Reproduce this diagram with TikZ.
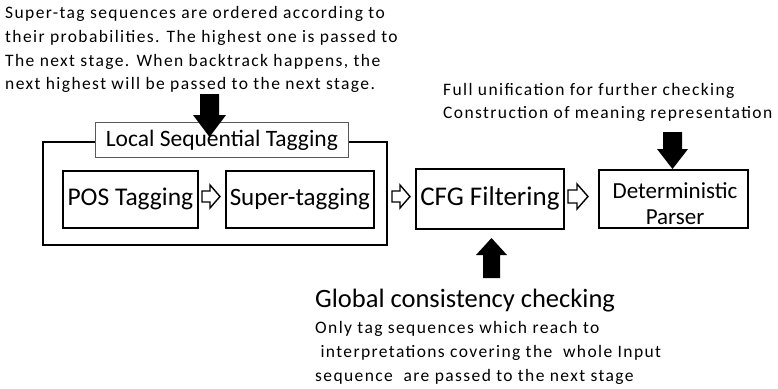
\documentclass[tikz,border=0pt]{standalone}
\usepackage{fontspec}
\setmainfont{Carlito}
\newfontfamily\spaced[LetterSpace=8]{Carlito}
\begin{document}
\begin{tikzpicture}[x=1pt,y=-1pt,
  box/.style={draw=black,line width=1.8pt,inner sep=0pt},
  note/.style={font=\spaced\fontsize{17.5}{20}\selectfont,inner sep=0pt,anchor=base west},
  blockarrow/.style={fill=black,draw=none},
  hollow/.style={fill=white,draw=black,line width=1.4pt,line join=miter}]
\useasboundingbox (0,0) rectangle (778,388);
% top note
\node[note] (t1) at (5,18) {Super-tag sequences are ordered according to};
\node[note] (t2) at (5,42) {their probabilities. The highest one is passed to};
\node[note] (t3) at (5,66) {The next stage. When backtrack happens, the};
\node[note] (t4) at (5,89) {next highest will be passed to the next stage.};
% outer frame
\draw[line width=1.8pt] (95,142) -- (43,142) -- (43,245) -- (387,245) -- (387,142) -- (348,142);
\node[draw=gray!70!black,line width=0.8pt,fill=white,minimum width=253pt,minimum height=35pt,anchor=north west,font=\fontsize{23.5}{26}\selectfont,inner sep=0pt] (lst) at (95,122) {Local Sequential Tagging};
% inner boxes
\node[box,minimum width=135pt,minimum height=57pt,anchor=north west,font=\fontsize{25.5}{28}\selectfont] (pos) at (62,170) {POS Tagging};
\node[box,minimum width=148pt,minimum height=57pt,anchor=north west,font=\fontsize{25}{28}\selectfont] (sup) at (225,170) {Super-tagging};
\node[box,minimum width=148pt,minimum height=60pt,anchor=north west,font=\fontsize{27}{30}\selectfont] (cfg) at (415,168) {CFG Filtering};
\node[box,minimum width=149pt,minimum height=58pt,anchor=north west] (det) at (598,169) {};
\node[font=\fontsize{23}{27}\selectfont,inner sep=0pt,anchor=base] (detl1) at (675,198) {Deterministic};
\node[font=\fontsize{23}{27}\selectfont,inner sep=0pt,anchor=base] (detl2) at (675,224) {Parser};
% hollow arrows
\draw[hollow] (202,191) -- (210,191) -- (210,185) -- (220,196.5) -- (210,208) -- (210,202) -- (202,202) -- cycle;
\draw[hollow] (392,191) -- (400,191) -- (400,185) -- (410,196.5) -- (400,208) -- (400,202) -- (392,202) -- cycle;
\draw[hollow] (568,190) -- (577,190) -- (577,184) -- (588,196.5) -- (577,209) -- (577,203) -- (568,203) -- cycle;
% thick down arrow into Local Sequential Tagging
\fill[blockarrow] (200,94) -- (219,94) -- (219,115) -- (226,115) -- (209.5,137) -- (193,115) -- (200,115) -- cycle;
% right note
\node[note] (r1) at (443,95) {Full unification for further checking};
\node[note] (r2) at (443,118) {Construction of meaning representation};
% thick down arrow into parser
\fill[blockarrow] (663,132) -- (682,132) -- (682,149) -- (688,149) -- (672.5,169) -- (657,149) -- (663,149) -- cycle;
% up arrow below CFG
\fill[blockarrow] (483,278) -- (500,278) -- (500,255) -- (507,255) -- (491.5,238) -- (476,255) -- (483,255) -- cycle;
% bottom notes
\node[anchor=base west,inner sep=0pt,font=\fontsize{26.5}{30}\selectfont] (gcc) at (315,307) {Global consistency checking};
\node[note] (b1) at (315,333) {Only tag sequences which reach to};
\node[note] (b2) at (315,357) {\ interpretations covering the\ \ whole Input};
\node[note] (b3) at (315,381) {sequence\ \ are passed to the next stage};
\end{tikzpicture}
\end{document}
